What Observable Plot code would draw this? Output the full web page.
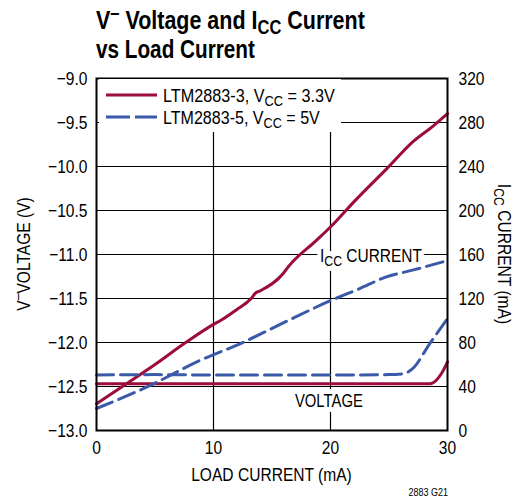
<!DOCTYPE html>
<html><head><meta charset="utf-8">
<script src="https://cdn.jsdelivr.net/npm/d3@7"></script>
<script src="https://cdn.jsdelivr.net/npm/@observablehq/plot@0.6"></script>
<style>
body{margin:0;background:#fff;}
#wrap{position:relative;width:523px;height:502px;background:#fff;}
svg text{font-family:'Liberation Sans Narrow','Arial Narrow','Liberation Sans',sans-serif;}
#title{display:block;overflow:visible;}
</style></head><body>
<div id="wrap"><svg id="title" width="523" height="62"></svg></div>
<script>
// ---- data ----
const icc3X = [0, 2.5, 5, 7.5, 10, 10.6, 12, 13.2, 13.6, 14.0, 15.9, 16.4, 18.7, 20, 22.1, 24.9, 27.1, 28.8, 30];
const icc3  = [24.3, 42, 60, 79, 96.5, 100, 110, 119.7, 125, 127, 142, 149, 172, 185, 209, 239, 263, 277, 288];
const icc5X = [0, 4.6, 8.9, 12.3, 16, 20, 22.5, 24.6, 27.1, 30];
const icc5  = [20, 41, 64, 79, 98, 118, 129, 139, 146, 154.5];
const v3X = [0, 5, 10, 15, 20, 25, 28.5, 28.8, 29.1, 29.5, 30];
const v3  = [-12.47, -12.47, -12.47, -12.47, -12.47, -12.47, -12.47, -12.455, -12.42, -12.35, -12.22];
const v5X = [0, 5, 10, 15, 20, 25, 26.2, 27, 28.5, 30];
const v5  = [-12.37, -12.365, -12.37, -12.37, -12.37, -12.365, -12.355, -12.30, -12.01, -11.73];
const vTicks = [-13, -12.5, -12, -11.5, -11, -10.5, -10, -9.5, -9];
const iccTicks = [0, 40, 80, 120, 160, 200, 240, 280, 320];
const xTicks = [0, 10, 20, 30];
const seriesNames = ["LTM2883-3, V|CC| = 3.3V", "LTM2883-5, V|CC| = 5V"];

const RED = "#9c0c3c", BLUE = "#3b59a9";
const toV = i => -13 + i / 80;              // right axis: 0..320 mA spans the same height as -13..-9 V
const fromV = v => Math.round((v + 13) * 80);

const rows = [];
icc3X.forEach((x, i) => rows.push({x, y: toV(icc3[i]), s: "i3"}));
icc5X.forEach((x, i) => rows.push({x, y: toV(icc5[i]), s: "i5"}));
v3X.forEach((x, i) => rows.push({x, y: v3[i], s: "v3"}));
v5X.forEach((x, i) => rows.push({x, y: v5[i], s: "v5"}));

const FONT = "'Liberation Sans Narrow','Arial Narrow','Liberation Sans',sans-serif";
const plot = Plot.plot({
  width: 523, height: 440,
  marginTop: 16, marginBottom: 72, marginLeft: 96, marginRight: 76,
  style: {fontFamily: FONT, fontSize: "19px", background: "white", color: "black", overflow: "visible"},
  x: {domain: [0, 30]},
  y: {domain: [-13, -9]},
  marks: [
    Plot.gridY(vTicks.slice(1, -1), {stroke: "black", strokeOpacity: 1, strokeWidth: 1.2}),
    Plot.gridX(xTicks.slice(1, -1), {stroke: "black", strokeOpacity: 1, strokeWidth: 1.2}),
    Plot.line(rows.filter(d => d.s === "i3"), {x: "x", y: "y", stroke: RED, strokeWidth: 3, curve: "monotone-x"}),
    Plot.line(rows.filter(d => d.s === "v3"), {x: "x", y: "y", stroke: RED, strokeWidth: 3, curve: "monotone-x"}),
    Plot.line(rows.filter(d => d.s === "i5"), {x: "x", y: "y", stroke: BLUE, strokeWidth: 3, strokeDasharray: "17,7", curve: "monotone-x"}),
    Plot.line(rows.filter(d => d.s === "v5"), {x: "x", y: "y", stroke: BLUE, strokeWidth: 3, strokeDasharray: "17,7", curve: "monotone-x"}),
    Plot.frame({stroke: "black", strokeWidth: 2}),
    Plot.axisY(vTicks, {anchor: "left", tickSize: 0, tickPadding: 9, tickFormat: d3.format(".1f"), label: null}),
    Plot.axisY(iccTicks.map(toV), {anchor: "right", tickSize: 0, tickPadding: 11, tickFormat: v => String(fromV(v)), label: null}),
    Plot.axisX(xTicks, {anchor: "bottom", tickSize: 0, tickPadding: 10, label: null})
  ]
});
document.getElementById("wrap").appendChild(plot);

const svg = d3.select(plot);
const xs = plot.scale("x"), ys = plot.scale("y");
const X = v => xs.apply(v), Y = v => ys.apply(v);

// helper: write text with |sub| parts as subscripts
function rich(sel, str, subSize, subDy) {
  const parts = str.split("|");
  parts.forEach((p, i) => {
    if (i % 2 === 1) {
      sel.append("tspan").attr("font-size", subSize).attr("dy", subDy).text(p);
    } else if (p.length) {
      const t = sel.append("tspan").text(p);
      if (i > 0) t.attr("dy", -subDy);
    }
  });
}
// horizontal condensing (no narrow font installed): scale along the text direction around its anchor
function condense(t, factor) {
  const ax = Number(t.getAttribute("x") || 0);
  const prev = t.getAttribute("transform") || "";
  t.setAttribute("transform", `${prev} translate(${ax},0) scale(${factor.toFixed(4)},1) translate(${-ax},0)`.trim());
  t.classList.add("done");
}
function fitTo(t, width) { condense(t, width / t.getComputedTextLength()); }

// legend (white box hides grid)
const lg = svg.append("g");
lg.append("rect").attr("x", X(0) + 3).attr("y", Y(-9) + 1).attr("width", 242).attr("height", 53).attr("fill", "white");
const legendLens = [172, 157];
[[RED, null], [BLUE, "24,5"]].forEach(([c, dash], i) => {
  const yy = Y(-9) + 17 + i * 22;
  const ln = lg.append("line").attr("x1", X(0) + 10).attr("x2", X(0) + 61).attr("y1", yy).attr("y2", yy)
    .attr("stroke", c).attr("stroke-width", 3);
  if (dash) ln.attr("stroke-dasharray", dash);
  const t = lg.append("text").attr("x", X(0) + 67).attr("y", yy + 7).attr("font-size", 19).attr("fill", "black")
    .attr("text-anchor", "start");
  rich(t, seriesNames[i], 15, 4);
  fitTo(t.node(), legendLens[i]);
});

// annotations on a white halo (halo copy drawn first, text on top)
function note(str, x, y, len) {
  [true, false].forEach(halo => {
    const t = svg.append("text").attr("x", X(x)).attr("y", Y(y)).attr("text-anchor", "start")
      .attr("font-size", 19).attr("fill", halo ? "white" : "black");
    if (halo) t.attr("stroke", "white").attr("stroke-width", 10).attr("stroke-linejoin", "round");
    rich(t, str, 15, 4);
    fitTo(t.node(), len);
  });
}
note("I|CC| CURRENT", 19.15, -11.09, 102);
note("VOLTAGE", 17.0, -12.74, 68);

// axis titles
const midY = (Y(-9) + Y(-13)) / 2;
const lt = svg.append("text").attr("transform", `translate(30,${midY}) rotate(-90)`).attr("text-anchor", "middle")
  .attr("font-size", 19).attr("fill", "black");
lt.append("tspan").text("V");
lt.append("tspan").attr("font-size", 15).attr("dy", -8).text("–");
lt.append("tspan").attr("dy", 8).text("VOLTAGE (V)");

const rt = svg.append("text").attr("transform", `translate(498,${midY}) rotate(90)`).attr("text-anchor", "middle")
  .attr("font-size", 19).attr("fill", "black");
rich(rt, "I|CC| CURRENT (mA)", 15, 4);

svg.append("text").attr("x", (X(0) + X(30)) / 2).attr("y", 419).attr("text-anchor", "middle")
  .attr("font-size", 19).attr("fill", "black").text("LOAD CURRENT (mA)");
svg.append("text").attr("x", X(30) + 1).attr("y", 434).attr("text-anchor", "end")
  .attr("font-size", 11).attr("fill", "black").text("2883 G21");

plot.querySelectorAll("text").forEach(t => { if (!t.classList.contains("done")) condense(t, 0.82); });

// title
const ts = d3.select("#title");
const t1 = ts.append("text").attr("x", 96).attr("y", 29).attr("font-size", 26).attr("font-weight", "bold").attr("fill", "black");
t1.append("tspan").text("V");
t1.append("tspan").attr("font-size", 20).attr("dy", -10).text("–");
t1.append("tspan").attr("dy", 10).text(" Voltage and I");
t1.append("tspan").attr("font-size", 20).attr("dy", 5).text("CC");
t1.append("tspan").attr("dy", -5).text(" Current");
fitTo(t1.node(), 269);
const t2 = ts.append("text").attr("x", 96).attr("y", 58).attr("font-size", 26).attr("font-weight", "bold").attr("fill", "black")
  .text("vs Load Current");
fitTo(t2.node(), 159);
</script>
</body></html>
